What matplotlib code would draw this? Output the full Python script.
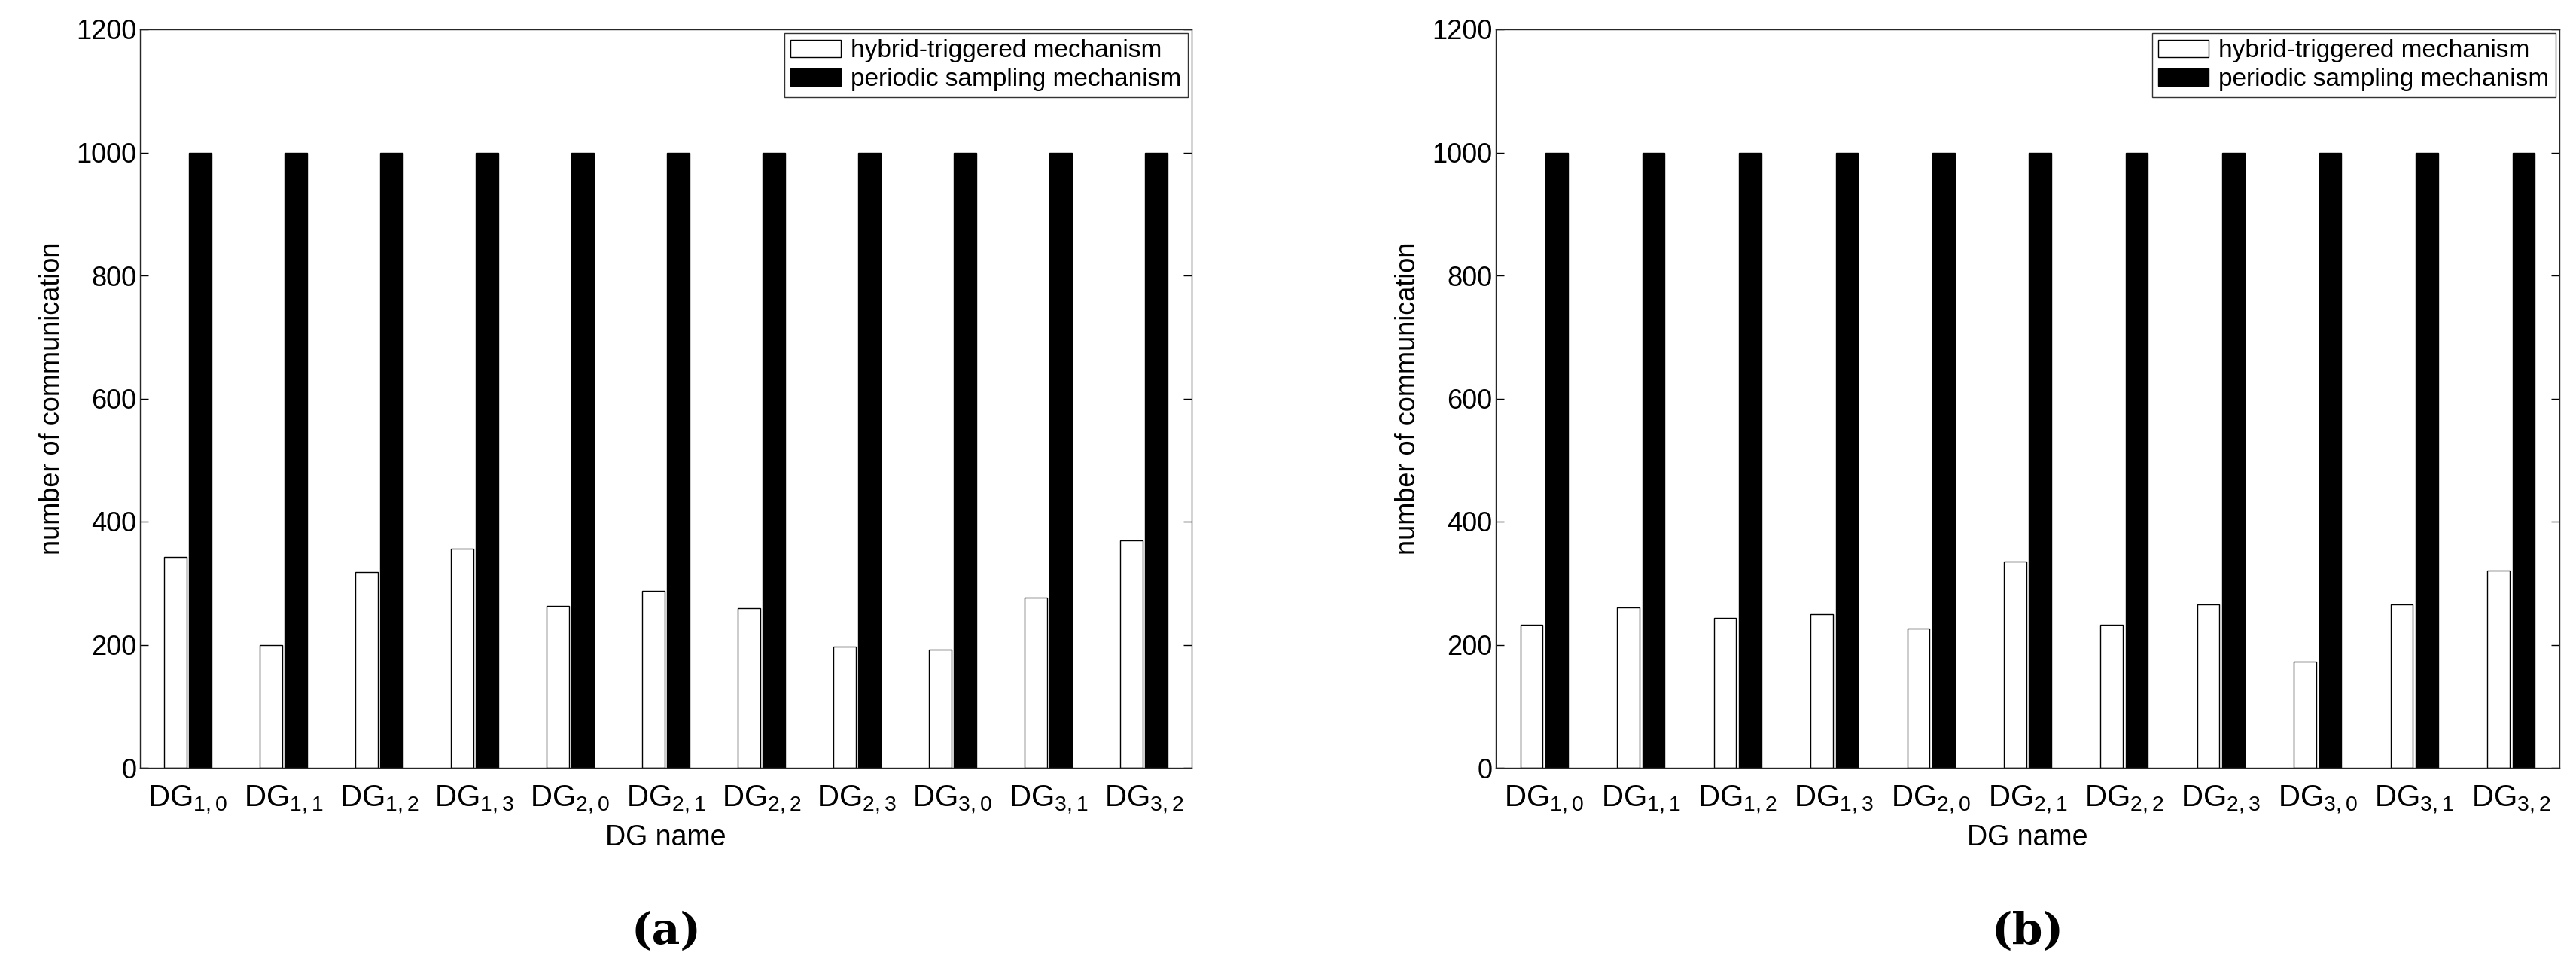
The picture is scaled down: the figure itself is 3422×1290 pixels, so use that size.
import numpy as np
import matplotlib
matplotlib.use('Agg')
import matplotlib.pyplot as plt

plt.rcParams['font.family'] = 'Liberation Sans'
plt.rcParams['mathtext.default'] = 'regular'

# ---------------- DATA ---------------- #
dg_labels = [r'DG$_{1,0}$', r'DG$_{1,1}$', r'DG$_{1,2}$', r'DG$_{1,3}$', r'DG$_{2,0}$', r'DG$_{2,1}$',
             r'DG$_{2,2}$', r'DG$_{2,3}$', r'DG$_{3,0}$', r'DG$_{3,1}$', r'DG$_{3,2}$']
hybrid_a = [342, 200, 318, 356, 263, 287, 259, 197, 192, 276, 369]
hybrid_b = [232, 261, 243, 249, 226, 335, 232, 266, 173, 266, 320]
periodic = [1000, 1000, 1000, 1000, 1000, 1000, 1000, 1000, 1000, 1000, 1000]
yticks = [0, 200, 400, 600, 800, 1000, 1200]

fig = plt.figure(figsize=(34.23, 12.9), dpi=100)
W, H = 3423, 1290
panels = [(186, 1583, hybrid_a, '(a)'), (1987, 3400, hybrid_b, '(b)')]

x = np.arange(1, len(dg_labels) + 1)
for left, right, hyb, cap in panels:
    ax = fig.add_axes([left / W, 1 - 1020 / H, (right - left) / W, (1020 - 39) / H])
    ax.bar(x - 0.13, hyb, width=0.23, color='white', edgecolor='black', linewidth=1,
           label='hybrid-triggered mechanism')
    ax.bar(x + 0.13, periodic, width=0.23, color='black', edgecolor='black', linewidth=1,
           label='periodic sampling mechanism')
    ax.set_xlim(0.5, 11.5)
    ax.set_ylim(0, 1200)
    ax.set_yticks(yticks)
    ax.set_xticks(x)
    ax.set_xticklabels(dg_labels, fontsize=29)
    ax.tick_params(direction='in', length=8, labelsize=26, right=True, top=False, width=1)
    ax.tick_params(axis='x', length=0, pad=16, labelsize=29)
    for s in ax.spines.values():
        s.set_linewidth(1)
        s.set_color('#262626')
    ax.set_xlabel('DG name', fontsize=27, labelpad=8)
    ax.set_ylabel('number of communication', fontsize=26, labelpad=10)
    leg = ax.legend(loc='upper right', fontsize=24, fancybox=False, edgecolor='black',
                    borderaxespad=0.15, handlelength=2.0, borderpad=0.25, labelspacing=0.2,
                    handletextpad=0.4)
    leg.get_frame().set_linewidth(1)
    fig.text((left + right) / 2 / W, 1 - 1238 / H, cap, ha='center', va='center',
             fontsize=42, fontweight='bold', family='DejaVu Serif')

fig.savefig('out.png', dpi=100)
